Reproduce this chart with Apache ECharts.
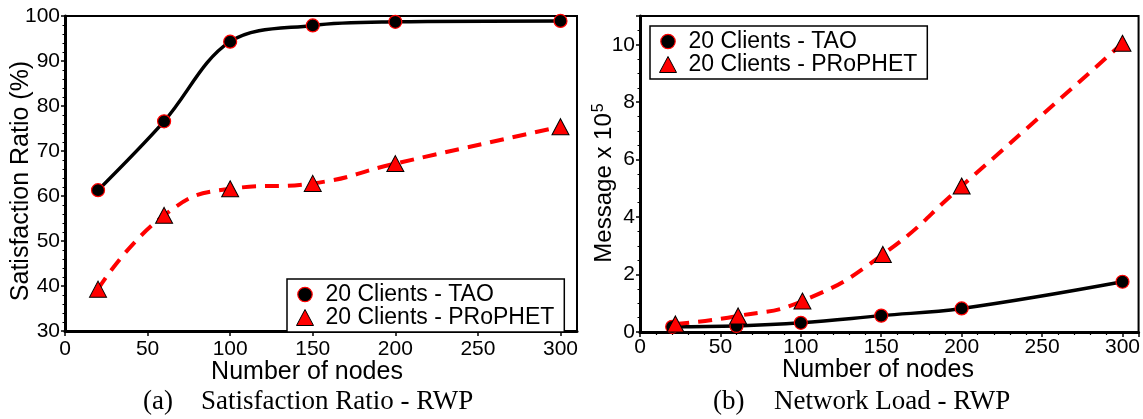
<!DOCTYPE html>
<html>
<head>
<meta charset="utf-8">
<script src="https://cdn.jsdelivr.net/npm/echarts@6/dist/echarts.min.js"></script>
<style>
html, body { margin: 0; padding: 0; background: #fff; }
#chart { width: 1143px; height: 419px; }
</style>
</head>
<body>
<div id="chart"></div>
<script>
// ---- data ----
const seriesNames = ['20 Clients - TAO', '20 Clients - PRoPHET'];

// (a) Satisfaction Ratio - RWP
const nodesA = [20, 60, 100, 150, 200, 300];
const taoSatisfaction = [61.3, 76.6, 94.3, 97.9, 98.7, 98.9];
const prophetSatisfaction = [39.3, 55.7, 61.6, 62.8, 67.2, 75.4];

// (b) Network Load - RWP  (Message x 10^5)
const nodesTaoB = [20, 60, 100, 150, 200, 300];
const nodesProphetB = [22, 61, 101, 151, 200, 300];
const taoLoad = [0.18, 0.21, 0.32, 0.57, 0.82, 1.75];
const prophetLoad = [0.28, 0.56, 1.08, 2.70, 5.08, 10.05];

// axes / text
const xAxisTitle = 'Number of nodes';
const yTitleA = 'Satisfaction Ratio (%)';
const yTitleB = 'Message x 10';
const yTitleBSup = '5';
const captionA = ['(a)', 'Satisfaction Ratio - RWP'];
const captionB = ['(b)', 'Network Load - RWP'];

// ---- styling ----
const SANS = "'Liberation Sans', Arial, sans-serif";
const SERIF = "'Liberation Serif', 'Times New Roman', serif";
const zip = (xs, ys) => xs.map((x, i) => [x, ys[i]]);

const circleIcon = 'path://M0,0M16,16M15.2,8A7.2,7.2,0,1,1,0.8,8A7.2,7.2,0,1,1,15.2,8Z';

function taoSeries(idx, data, smooth) {
  return {
    name: seriesNames[0], type: 'line', xAxisIndex: idx, yAxisIndex: idx,
    data: data, smooth: smooth,
    symbol: 'circle', symbolSize: 13,
    lineStyle: { color: '#000', width: 3.5 },
    itemStyle: { color: '#000', borderColor: '#ff0000', borderWidth: 1.2 },
    emphasis: { disabled: true }, z: 2
  };
}
function prophetSeries(idx, data) {
  return {
    name: seriesNames[1], type: 'line', xAxisIndex: idx, yAxisIndex: idx,
    data: data, smooth: 0.5,
    symbol: 'triangle', symbolSize: [17, 16],
    lineStyle: { color: '#ff0000', width: 4, type: [14, 9] },
    itemStyle: { color: '#ff0000', borderColor: '#000', borderWidth: 1 },
    emphasis: { disabled: true }, z: 3
  };
}
function legend(left, top) {
  return {
    orient: 'vertical', left: left, top: top,
    itemWidth: 17, itemHeight: 16, itemGap: 0,
    padding: [4, 10, 3, 9],
    borderColor: '#000', borderWidth: 1.5, backgroundColor: '#fff',
    textStyle: { fontFamily: SANS, fontSize: 23, lineHeight: 19, color: '#000', padding: [0, 0, 0, 7] },
    selectedMode: false,
    data: [
      { name: seriesNames[0], icon: circleIcon,
        itemStyle: { color: '#000', borderColor: '#ff0000', borderWidth: 1.2 } },
      { name: seriesNames[1], icon: 'triangle',
        itemStyle: { color: '#ff0000', borderColor: '#000', borderWidth: 1 } }
    ]
  };
}
const labelStyle = { fontFamily: SANS, fontSize: 21, color: '#000' };

function xAxis(idx, minorSplit, margin) {
  return {
    type: 'value', gridIndex: idx, min: 0, max: 310, interval: 50,
    axisLine: { show: true, lineStyle: { color: '#000', width: 3 } },
    axisTick: { show: true, inside: false, length: 5, lineStyle: { color: '#000', width: 1.5 } },
    minorTick: { show: minorSplit > 0, splitNumber: minorSplit || 5, length: 3, lineStyle: { color: '#000', width: 1.2 } },
    axisLabel: Object.assign({ margin: margin, showMaxLabel: false }, labelStyle),
    splitLine: { show: false }
  };
}
function title(x, y, text, rotate) {
  return {
    type: 'text', x: x, y: y, rotation: rotate ? Math.PI / 2 : 0,
    style: { text: text, font: '25px ' + SANS, fill: '#000', align: 'center', verticalAlign: 'middle' }
  };
}
function caption(x, text) {
  return { type: 'text', x: x, y: 402, style: { text: text, font: '27px ' + SERIF, fill: '#000', align: 'left', verticalAlign: 'middle' } };
}

const option = {
  backgroundColor: '#fff',
  animation: false,
  grid: [
    { left: 65, top: 16, width: 512, height: 315, show: true, borderColor: '#000', borderWidth: 2, backgroundColor: 'transparent' },
    { left: 640, top: 16, width: 502, height: 316, show: true, borderColor: '#000', borderWidth: 2, backgroundColor: 'transparent' }
  ],
  xAxis: [xAxis(0, 0, 8), xAxis(1, 5, 5)],
  yAxis: [
    {
      type: 'value', gridIndex: 0, min: 30, max: 100, interval: 10,
      axisLine: { show: true, lineStyle: { color: '#000', width: 3 } },
      axisTick: { show: true, inside: false, length: 4, lineStyle: { color: '#000', width: 1.5 } },
      minorTick: { show: true, splitNumber: 5, length: 2.5, lineStyle: { color: '#000', width: 1 } },
      axisLabel: Object.assign({ margin: 5 }, labelStyle),
      splitLine: { show: false }
    },
    {
      type: 'value', gridIndex: 1, min: 0, max: 11, interval: 2,
      axisLine: { show: true, lineStyle: { color: '#000', width: 3 } },
      axisTick: { show: true, inside: false, length: 4, lineStyle: { color: '#000', width: 1.5 } },
      minorTick: { show: true, splitNumber: 4, length: 2.5, lineStyle: { color: '#000', width: 1 } },
      axisLabel: Object.assign({ margin: 5, showMaxLabel: false }, labelStyle),
      splitLine: { show: false }
    }
  ],
  legend: [legend(287, 279), legend(650, 26)],
  series: [
    taoSeries(0, zip(nodesA, taoSatisfaction), 0.35),
    prophetSeries(0, zip(nodesA, prophetSatisfaction)),
    taoSeries(1, zip(nodesTaoB, taoLoad), 0.4),
    prophetSeries(1, zip(nodesProphetB, prophetLoad))
  ],
  graphic: [
    title(307, 372, xAxisTitle, false),
    title(878, 370, xAxisTitle, false),
    title(21.5, 181, yTitleA, true),
    {
      type: 'text', x: 604.5, y: 183, rotation: Math.PI / 2,
      style: {
        text: '{m|' + yTitleB + '}{sup|' + yTitleBSup + '}',
        align: 'center', verticalAlign: 'middle',
        rich: {
          m: { fontFamily: SANS, fontSize: 24, fill: '#000', color: '#000' },
          sup: { fontFamily: SANS, fontSize: 16, fill: '#000', color: '#000', padding: [0, 0, 12, 1] }
        }
      }
    },
    caption(143, captionA[0]),
    caption(201, captionA[1]),
    caption(713, captionB[0]),
    caption(774, captionB[1])
  ]
};

const chart = echarts.init(document.getElementById('chart'), null, { renderer: 'canvas', width: 1143, height: 419 });
chart.setOption(option);
</script>
</body>
</html>
